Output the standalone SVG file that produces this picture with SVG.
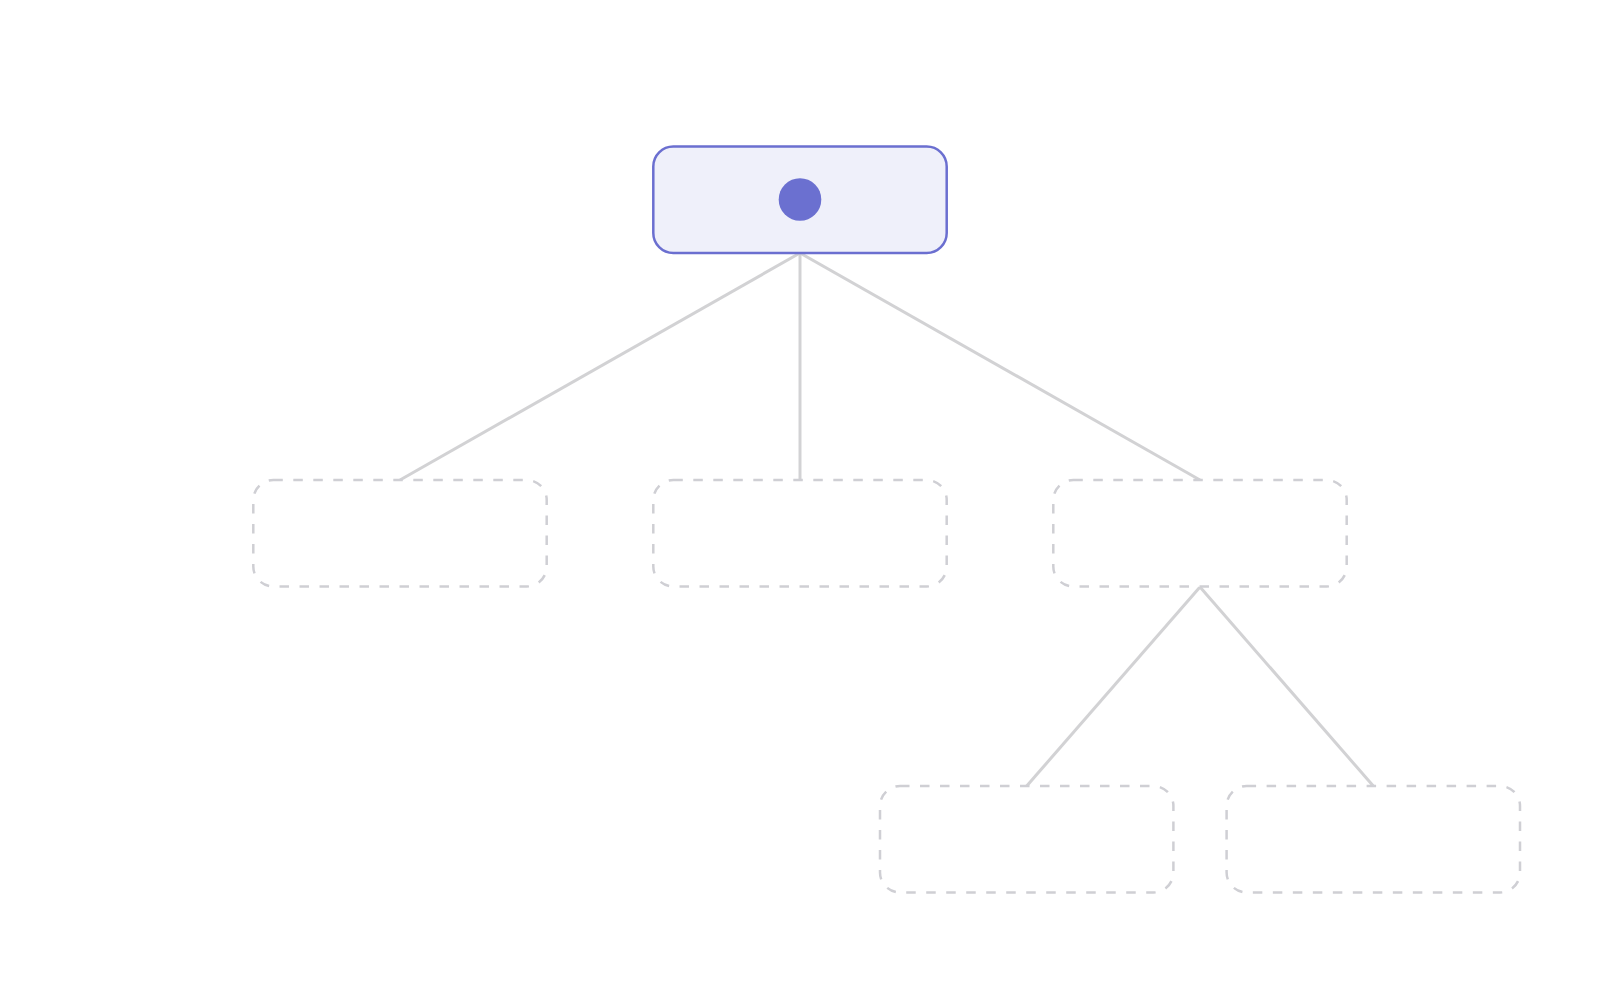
<svg xmlns="http://www.w3.org/2000/svg" width="1600" height="987" viewBox="0 0 1600 987">
  <style>
    .edge { stroke: #d2d2d4; stroke-width: 3; fill: none; }
    .ghost { fill: #ffffff; stroke: #cfcfd4; stroke-width: 2.5; stroke-dasharray: 9.5 10.5; }
    .root { fill: #eff0fa; stroke: #6b6fd0; stroke-width: 2.5; }
    .dot { fill: #6b70d0; }
  </style>
  <rect width="1600" height="987" fill="#ffffff"/>
  <g id="connectors">
    <line class="edge" x1="800" y1="253" x2="400" y2="480"/>
    <line class="edge" x1="800" y1="253" x2="800" y2="480"/>
    <line class="edge" x1="800" y1="253" x2="1200" y2="480"/>
    <line class="edge" x1="1200" y1="587" x2="1026.7" y2="786"/>
    <line class="edge" x1="1200" y1="587" x2="1373.3" y2="786"/>
  </g>
  <g id="root">
    <rect class="root" x="653.3" y="146.5" width="293.4" height="106.5" rx="20"/>
    <circle class="dot" cx="800" cy="199.5" r="21.3"/>
  </g>
  <g id="child1">
    <rect class="ghost" x="253.3" y="480" width="293.4" height="106.5" rx="20"/>
  </g>
  <g id="child2">
    <rect class="ghost" x="653.3" y="480" width="293.4" height="106.5" rx="20"/>
  </g>
  <g id="child3">
    <rect class="ghost" x="1053.3" y="480" width="293.4" height="106.5" rx="20"/>
  </g>
  <g id="child4">
    <rect class="ghost" x="880" y="786" width="293.4" height="106.5" rx="20"/>
  </g>
  <g id="child5">
    <rect class="ghost" x="1226.6" y="786" width="293.4" height="106.5" rx="20"/>
  </g>
</svg>
